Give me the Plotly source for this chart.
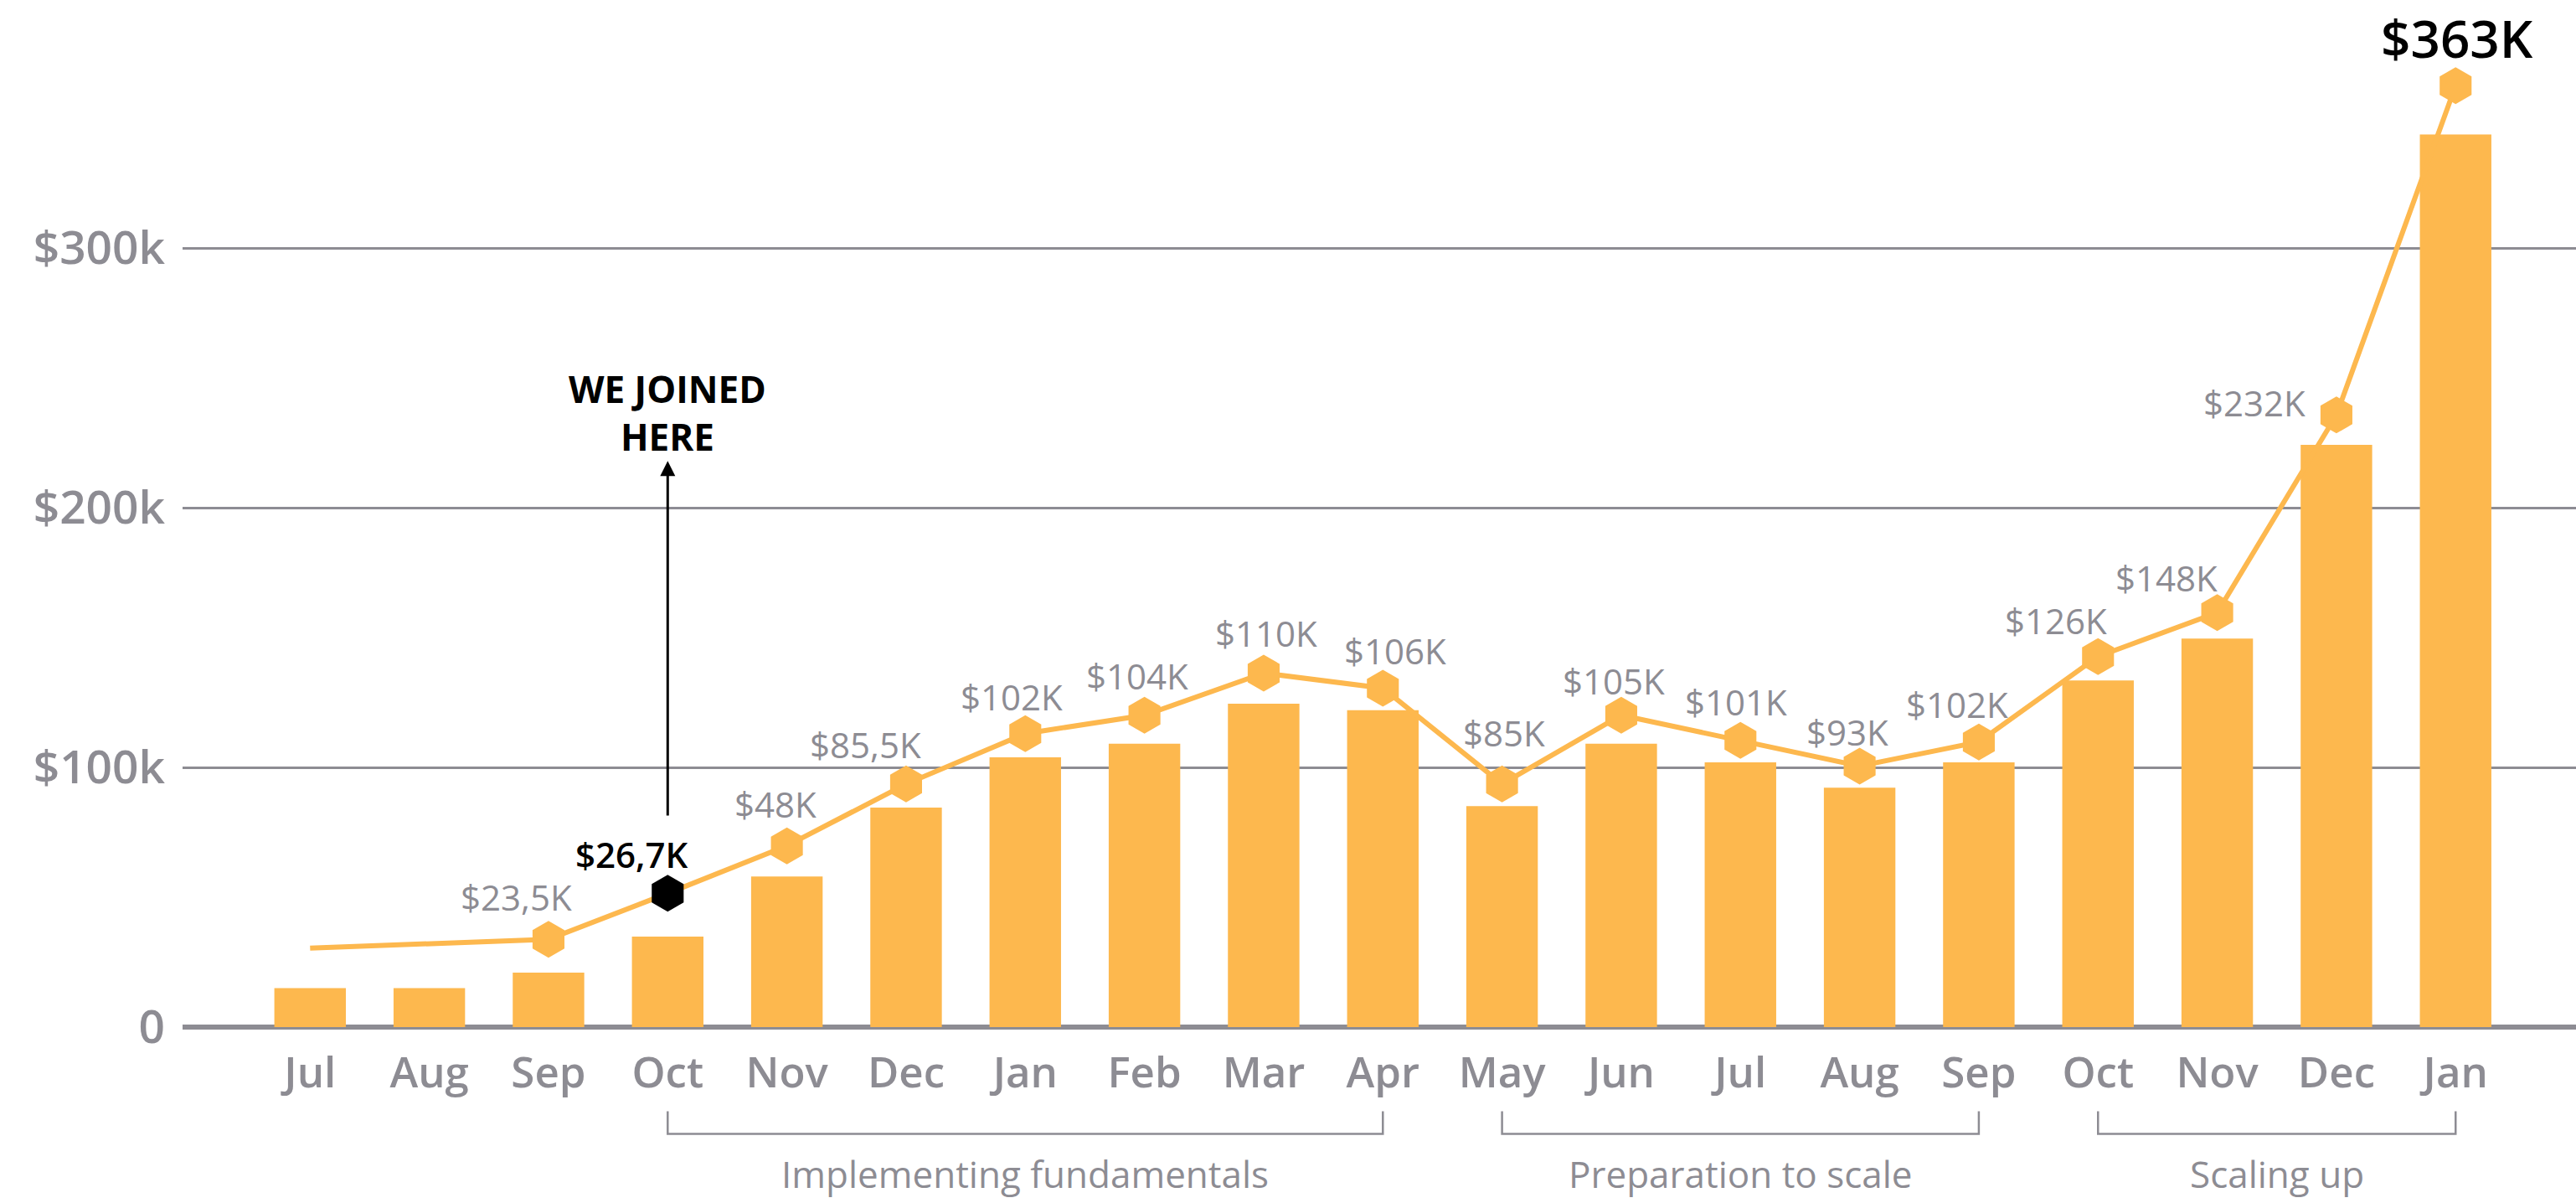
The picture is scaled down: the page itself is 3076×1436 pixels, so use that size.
import plotly.graph_objects as go

# ---- data ----
months = ["Jul", "Aug", "Sep", "Oct", "Nov", "Dec", "Jan", "Feb", "Mar", "Apr",
          "May", "Jun", "Jul", "Aug", "Sep", "Oct", "Nov", "Dec", "Jan"]
bar_values = [15000, 15000, 21000, 34800, 58000, 84500, 103900, 109100, 124500, 122000,
              85100, 109100, 101900, 92200, 101900, 133500, 149600, 224200, 343700]
line_values = [30400, 32100, 33800, 51500, 69800, 93600, 113000, 120100, 136300, 130500,
               93600, 120100, 110400, 100500, 109800, 142700, 159600, 235700, 362500]
value_labels = [None, None, "$23,5K", "$26,7K", "$48K", "$85,5K", "$102K", "$104K", "$110K", "$106K",
                "$85K", "$105K", "$101K", "$93K", "$102K", "$126K", "$148K", "$232K", "$363K"]
y_tick_values = [0, 100000, 200000, 300000]
y_tick_labels = ["0", "$100k", "$200k", "$300k"]
phases = ["Implementing fundamentals", "Preparation to scale", "Scaling up"]
phase_start = [3, 10, 15]
phase_end = [9, 14, 18]
joined_index = 3
joined_text = "WE JOINED<br>HERE"

# ---- style ----
ORANGE = "#FDB84E"
GRAY = "#8D8C93"
FONT = "Open Sans"
label_dx = [0, 0, -38, -43, -14, -48, -16, -9, 3, 15, 2, -9, -5, -15, -26, -50, -61, -98, 2]
label_dy = [0, 0, 51, 47, 50, 47, 44, 47, 48, 45, 61, 41, 46, 41, 45, 43, 42, 15, 57]

x = list(range(len(months)))

fig = go.Figure()
fig.add_trace(go.Bar(x=x, y=bar_values, width=0.6, marker=dict(color=ORANGE, line=dict(width=0)),
                     hoverinfo="skip"))
fig.add_trace(go.Scatter(x=x, y=line_values, mode="lines",
                         line=dict(color=ORANGE, width=6), hoverinfo="skip"))
mk_x = x[2:]
mk_y = line_values[2:]
mk_col = ["#000000" if i == joined_index else ORANGE for i in mk_x]
fig.add_trace(go.Scatter(x=mk_x, y=mk_y, mode="markers",
                         marker=dict(symbol="hexagon", size=44, color=mk_col, line=dict(width=0)),
                         hoverinfo="skip"))

annotations = []
for i, lab in enumerate(value_labels):
    if lab is None:
        continue
    if i == len(value_labels) - 1:
        f = dict(family=FONT, size=62, color="#000000", weight=600)
    elif i == joined_index:
        f = dict(family=FONT, size=42, color="#000000", weight=600)
    else:
        f = dict(family=FONT, size=42, color=GRAY, weight=500)
    annotations.append(dict(x=i, y=line_values[i], xref="x", yref="y", text=lab, showarrow=False,
                            xshift=label_dx[i], yshift=label_dy[i], font=f,
                            xanchor="center", yanchor="middle"))

# arrow "we joined here"
annotations.append(dict(x=joined_index, y=218000, ax=joined_index, ay=81000, xref="x", yref="y",
                        axref="x", ayref="y", text="", showarrow=True, arrowhead=2,
                        arrowsize=1.2, arrowwidth=3, arrowcolor="#000000"))
annotations.append(dict(x=joined_index, y=236500, xref="x", yref="y", text=joined_text,
                        showarrow=False, xanchor="center", yanchor="middle",
                        font=dict(family=FONT, size=44, color="#000000", weight=700)))

shapes = []
for name, s, e in zip(phases, phase_start, phase_end):
    shapes.append(dict(type="path", xref="x", yref="paper",
                       path=f"M {s},-0.082 L {s},-0.104 L {e},-0.104 L {e},-0.082",
                       line=dict(color=GRAY, width=2.5)))
    annotations.append(dict(x=(s + e) / 2, y=-0.143, xref="x", yref="paper", text=name,
                            showarrow=False, xanchor="center", yanchor="middle",
                            font=dict(family=FONT, size=44, color=GRAY, weight=400)))

fig.update_layout(
    width=3076, height=1436,
    margin=dict(l=218, r=0, t=0, b=210),
    plot_bgcolor="white", paper_bgcolor="white",
    showlegend=False, bargap=0.4, hovermode=False,
    annotations=annotations, shapes=shapes,
    xaxis=dict(range=[-1.07, 19.01], tickvals=x, ticktext=months, showgrid=False,
               zeroline=False, showline=False, ticks="", ticklabelstandoff=20,
               tickfont=dict(family=FONT, size=51, color=GRAY, weight=600)),
    yaxis=dict(range=[0, 395500], tickvals=y_tick_values, ticktext=y_tick_labels,
               showgrid=True, gridcolor=GRAY, gridwidth=2.5, zeroline=True,
               zerolinecolor=GRAY, zerolinewidth=6, showline=False, ticks="",
               ticklabelstandoff=20,
               tickfont=dict(family=FONT, size=55, color=GRAY, weight=600)),
)

fig.write_html("out.html", config={"displayModeBar": False},
               post_script="document.body.style.margin='0px';")
